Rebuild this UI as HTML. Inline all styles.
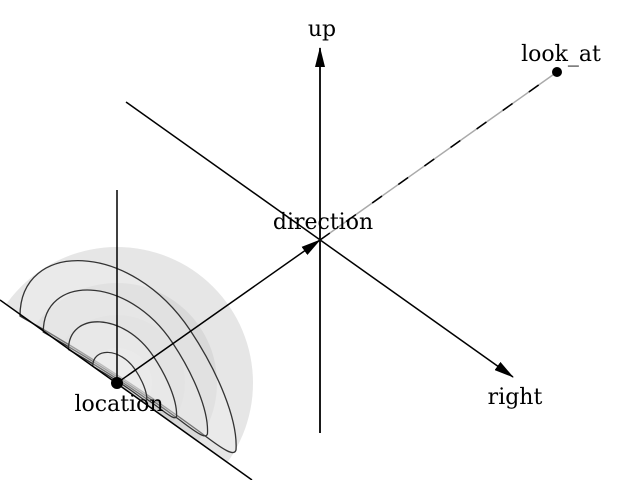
<!DOCTYPE html>
<html><head><style>html,body{margin:0;padding:0;background:#fff;overflow:hidden;width:640px;height:480px}svg{display:block}</style></head><body>
<svg width="640" height="480" viewBox="0 0 640 480" xmlns="http://www.w3.org/2000/svg">
<defs>
<clipPath id="c"><polygon points="-50,264 0,300 260,487 640,487 640,0 -50,0"/></clipPath>
<marker id="b" markerWidth="20" markerHeight="10" refX="19" refY="5" orient="auto" markerUnits="userSpaceOnUse"><polygon points="0,0 20,5 0,10" fill="#000"/></marker>
<path id="arc" d="M20,316 C20,240 130,240 190,330 C218,372 238,420 236,450 C234,456 226,452 200,432 C140,388 80,350 20,316 Z"/>
</defs>
<g clip-path="url(#c)">
<circle cx="117" cy="383" r="136" fill="#e6e6e6"/>
<circle cx="117" cy="383" r="100" fill="#d9d9d9"/>
<circle cx="117" cy="383" r="68" fill="#d2d2d2"/>
<circle cx="117" cy="383" r="35" fill="#d8d8d8"/>
</g>
<g fill="#f2f2f2" fill-opacity="0.35" stroke="#333" stroke-width="1.3">
<use href="#arc"/>
<use href="#arc" transform="translate(117,383) scale(0.76) translate(-117,-383)" stroke-width="1.7"/>
<use href="#arc" transform="translate(117,383) scale(0.5) translate(-117,-383)" stroke-width="2.6"/>
<use href="#arc" transform="translate(117,383) scale(0.25) translate(-117,-383)" stroke-width="5"/>
</g>
<line x1="0" y1="300" x2="252" y2="480" stroke="#000" stroke-width="1.5"/>
<line x1="117" y1="190" x2="117" y2="383" stroke="#000" stroke-width="1.5"/>
<line x1="117" y1="383" x2="320" y2="240" stroke="#000" stroke-width="1.5" marker-end="url(#b)"/>
<line x1="320" y1="433" x2="320" y2="48" stroke="#000" stroke-width="1.8" marker-end="url(#b)"/>
<line x1="126" y1="102" x2="513" y2="377" stroke="#000" stroke-width="1.5" marker-end="url(#b)"/>
<line x1="320" y1="240" x2="557" y2="72" stroke="#aaa" stroke-width="1.5"/>
<line x1="320" y1="240" x2="557" y2="72" stroke="#000" stroke-width="1.5" stroke-dasharray="12,20"/>
<circle cx="557" cy="72" r="5" fill="#000"/>
<circle cx="117" cy="383" r="6" fill="#000"/>
<g font-family="DejaVu Serif, Liberation Serif, serif" font-size="22" fill="#000" text-anchor="middle">
<text x="322" y="36">up</text>
<text x="561" y="61">look_at</text>
<text x="323" y="229">direction</text>
<text x="119" y="411">location</text>
<text x="515" y="404">right</text>
</g>
</svg>
</body></html>
